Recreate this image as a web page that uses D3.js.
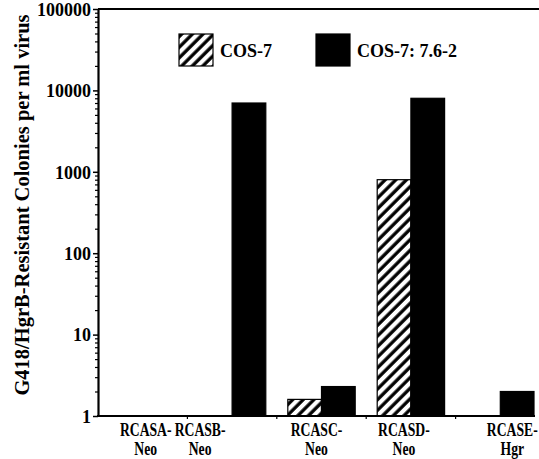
<!DOCTYPE html>
<html lang="en">
<head>
<meta charset="UTF-8"/>
<script src="https://d3js.org/d3.v7.min.js"></script>
<style>
body { margin: 0; background: #fff; }
text { font-family: "Liberation Serif", "Times New Roman", serif; font-weight: bold; fill: #000; }
</style>
</head>
<body>
<svg width="539" height="459"></svg>
<script>
// data (0 / not detected = null, no bar)
var categories = ["RCASA-Neo", "RCASB-Neo", "RCASC-Neo", "RCASD-Neo", "RCASE-Hgr"];
var catLines = [["RCASA-", "Neo"], ["RCASB-", "Neo"], ["RCASC-", "Neo"], ["RCASD-", "Neo"], ["RCASE-", "Hgr"]];
var seriesNames = ["COS-7", "COS-7: 7.6-2"];
var cos7 = [null, null, 1.6, 800, null];
var cos7762 = [null, 7000, 2.3, 8000, 2.0];
var yTicks = [1, 10, 100, 1000, 10000, 100000];

// label placement nudges seen in the original figure
var labelShift = [3, -32, -5, -7, 12];

var svg = d3.select("svg");

var defs = svg.append("defs");
var pat = defs.append("pattern")
  .attr("id", "hatch")
  .attr("patternUnits", "userSpaceOnUse")
  .attr("width", 7.5).attr("height", 7.5)
  .attr("patternTransform", "rotate(45)");
pat.append("rect").attr("width", 7.5).attr("height", 7.5).attr("fill", "#fff");
pat.append("line")
  .attr("x1", 2).attr("y1", 0).attr("x2", 2).attr("y2", 7.5)
  .attr("stroke", "#000").attr("stroke-width", 3.3);

var plotL = 98, plotR = 545, plotT = 9, plotB = 416;

var x0 = d3.scaleBand().domain(d3.range(categories.length)).range([plotL, plotR]);
var x1 = d3.scaleBand().domain([0, 1]).range([11, x0.bandwidth() - 11]);
var y = d3.scaleLog().domain([1, 100000]).range([plotB, plotT]);

// minor ticks
var minor = [];
yTicks.slice(0, -1).forEach(function(t) {
  for (var k = 2; k <= 9; k++) minor.push(t * k);
});

var bars = svg.append("g");
var fills = ["url(#hatch)", "#000"];
[cos7, cos7762].forEach(function(vals, s) {
  bars.selectAll(null)
    .data(vals.map(function(v, i) { return {v: v, i: i}; }).filter(function(d) { return d.v != null; }))
    .enter().append("rect")
    .attr("x", function(d) { return x0(d.i) + x1(s); })
    .attr("width", x1.bandwidth())
    .attr("y", function(d) { return y(d.v); })
    .attr("height", function(d) { return plotB - y(d.v); })
    .attr("fill", fills[s])
    .attr("stroke", "#000")
    .attr("stroke-width", 1.2);
});

// y axis
svg.append("g")
  .attr("transform", "translate(" + plotL + ",0)")
  .call(d3.axisLeft(y).tickValues(minor).tickSize(3).tickFormat(""))
  .call(function(g) { g.select(".domain").remove(); g.selectAll("line").attr("stroke-width", 1.2); });

var yAxis = svg.append("g")
  .attr("transform", "translate(" + plotL + ",0)")
  .call(d3.axisLeft(y).tickValues(yTicks).tickSize(5).tickSizeOuter(0).tickPadding(2)
    .tickFormat(d3.format("d")));
yAxis.select(".domain").attr("stroke-width", 2.2);
yAxis.selectAll("line").attr("stroke-width", 1.5);
yAxis.selectAll("text")
  .style("font-family", "'Liberation Serif', serif")
  .style("font-weight", "bold")
  .style("font-size", "18px")
  .attr("dy", "0.35em");

// top frame line
svg.append("line")
  .attr("x1", plotL).attr("x2", 539)
  .attr("y1", y(100000)).attr("y2", y(100000))
  .attr("stroke", "#000").attr("stroke-width", 2);

// x axis line and boundary ticks
svg.append("line")
  .attr("x1", plotL - 1).attr("x2", 535)
  .attr("y1", plotB).attr("y2", plotB)
  .attr("stroke", "#000").attr("stroke-width", 2);
svg.append("g").selectAll("line")
  .data(d3.range(1, categories.length))
  .enter().append("line")
  .attr("x1", function(i) { return x0(i); })
  .attr("x2", function(i) { return x0(i); })
  .attr("y1", plotB).attr("y2", plotB + 3)
  .attr("stroke", "#000").attr("stroke-width", 1.2);

// category labels (condensed like the original typeface)
var lab = svg.append("g").selectAll("text")
  .data(catLines)
  .enter().append("text")
  .attr("text-anchor", "middle")
  .style("font-size", "18px")
  .attr("transform", function(d, i) {
    return "translate(" + (x0(i) + x0.bandwidth() / 2 + labelShift[i]) + ",436) scale(0.76,1)";
  });
lab.append("tspan").attr("x", 0).attr("y", 0).text(function(d) { return d[0]; });
lab.append("tspan").attr("x", 0).attr("y", 19).text(function(d) { return d[1]; });

// y title
svg.append("text")
  .attr("transform", "translate(29,205) rotate(-90)")
  .attr("text-anchor", "middle")
  .style("font-size", "20.5px")
  .text("G418/HgrB-Resistant Colonies per ml virus");

// legend
var legX = [179, 316];
var leg = svg.append("g").selectAll("g")
  .data(seriesNames)
  .enter().append("g")
  .attr("transform", function(d, i) { return "translate(" + legX[i] + ",34)"; });
leg.append("rect")
  .attr("width", 34).attr("height", 32)
  .attr("fill", function(d, i) { return fills[i]; })
  .attr("stroke", "#000").attr("stroke-width", 1.2);
leg.append("text")
  .attr("x", 41).attr("y", 23)
  .style("font-size", "18px")
  .text(function(d) { return d; });
</script>
</body>
</html>
